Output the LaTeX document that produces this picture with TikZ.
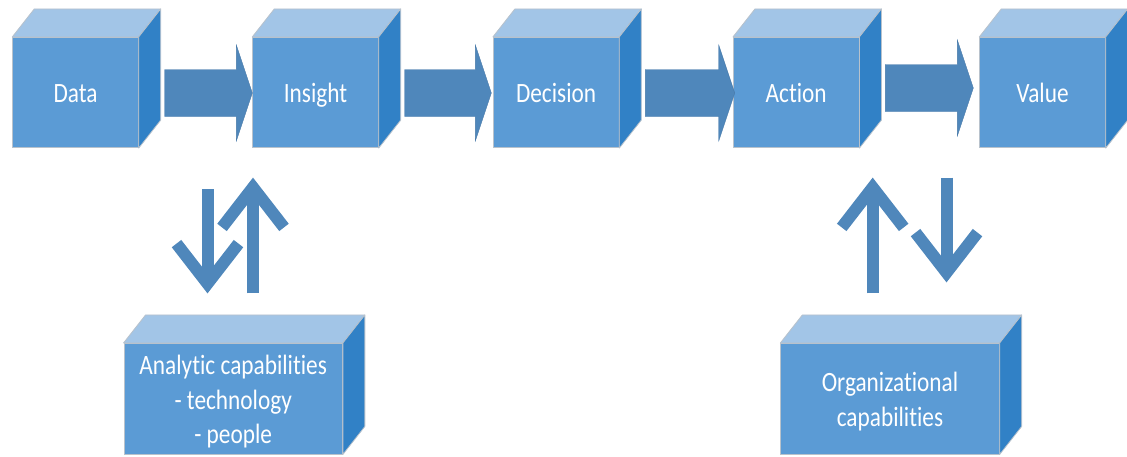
\documentclass[tikz,border=0pt]{standalone}
\usepackage{fontspec}
\setmainfont[Ligatures=NoCommon]{Carlito}
\usetikzlibrary{calc}

\definecolor{facefront}{HTML}{5B9BD5}
\definecolor{facetop}{HTML}{A2C5E7}
\definecolor{faceside}{HTML}{3181C6}
\definecolor{arrowfill}{HTML}{4F87BB}
\definecolor{edgegray}{HTML}{B8C2CC}

\tikzset{
  front/.style={rectangle, fill=facefront, draw=edgegray, line width=0.8pt,
    inner sep=0pt, text=white, font=\fontsize{23.3}{28.8}\selectfont},
  cubebox/.style={front, minimum width=125.6pt, minimum height=110.4pt},
  widebox/.style={front, minimum width=218.5pt, minimum height=110.7pt},
  topface/.style={fill=facetop, draw=edgegray, line width=0.8pt, line join=round},
  sideface/.style={fill=faceside, draw=edgegray, line width=0.8pt, line join=round},
  blockarrow/.style={fill=arrowfill, draw=arrowfill!90!black, line width=0.4pt},
  thinarrow/.style={draw=arrowfill, line width=12pt, line join=miter, line cap=butt},
}

% text slightly stretched vertically and set a little below the box centre
\newcommand\tallText[1]{\raisebox{-3.5pt}[\height][\depth]{\scalebox{1}[1.2]{#1}}}

% top and right faces of a box whose front face is node #1
\newcommand\boxfaces[1]{%
  \draw[topface] (#1.north west) -- ++(22,-28) -- ($(#1.north east)+(22,-28)$)
    -- (#1.north east) -- cycle;
  \draw[sideface] (#1.north east) -- ++(22,-28) -- ($(#1.south east)+(22,-28)$)
    -- (#1.south east) -- cycle;
}

% block arrow from box #1 to box #2, vertical shift #3, tip shift #4
\newcommand\flowarrow[4]{%
  \draw[blockarrow] ($(#1.east)+(26,#3-23.5)$) -- ($(#2.west)+(#4-16,#3-23.5)$)
    -- ($(#2.west)+(#4-16,#3-48)$) -- ($(#2.west)+(#4,#3)$)
    -- ($(#2.west)+(#4-16,#3+48)$) -- ($(#2.west)+(#4-16,#3+23.5)$)
    -- ($(#1.east)+(26,#3+23.5)$) -- cycle;
}

% open-headed arrows: shaft from #1 to the head vertex #2
\newcommand\capdown[2]{%
  \draw[thinarrow] (#1) -- (#2);
  \draw[thinarrow] ($(#2)+(-31,-40)$) -- (#2) -- ($(#2)+(31,-40)$);
}
\newcommand\capup[2]{%
  \draw[thinarrow] (#1) -- (#2);
  \draw[thinarrow] ($(#2)+(-31,40)$) -- (#2) -- ($(#2)+(31,40)$);
}

\begin{document}
\begin{tikzpicture}[x=1pt, y=-1pt]
  \useasboundingbox (0,0) rectangle (1127,456);

  % process chain
  \node[cubebox] (data)     at (75.5,92.5)   {\tallText{\strut Data}};
  \node[cubebox] (insight)  at (315.5,92.5)  {\tallText{\strut Insight}};
  \node[cubebox] (decision) at (556.1,92.5)  {\tallText{\strut Decision}};
  \node[cubebox] (action)   at (796.2,92.5)  {\tallText{\strut Action}};
  \node[cubebox] (value)    at (1042.5,92.5) {\tallText{\strut Value}};
  \foreach \b in {data,insight,decision,action,value} {\boxfaces{\b}}

  \flowarrow{data}{insight}{0.5}{0}
  \flowarrow{insight}{decision}{0.5}{-1.6}
  \flowarrow{decision}{action}{0.5}{1.7}
  \flowarrow{action}{value}{-4.5}{-6}

  % capability boxes
  \node[widebox] (analytic) at (233.2,398.7)
    {\tallText{\begin{tabular}{@{}c@{}}Analytic capabilities\\- technology\\- people\end{tabular}}};
  \node[widebox] (org) at (890,398.7)
    {\tallText{\begin{tabular}{@{}c@{}}Organizational\\capabilities\end{tabular}}};
  \boxfaces{analytic}
  \boxfaces{org}

  % exchange arrows
  \coordinate (ldtop) at (207.5,189);
  \coordinate (ldhead) at (207.5,283.6);
  \coordinate (lubot) at (253,293.3);
  \coordinate (luhead) at (253,187.4);
  \coordinate (rubot) at (872.7,293.3);
  \coordinate (ruhead) at (872.7,187.4);
  \coordinate (rdtop) at (946.5,177.7);
  \coordinate (rdhead) at (946.5,272.6);
  \capdown{ldtop}{ldhead}
  \capup{lubot}{luhead}
  \capup{rubot}{ruhead}
  \capdown{rdtop}{rdhead}
\end{tikzpicture}
\end{document}
